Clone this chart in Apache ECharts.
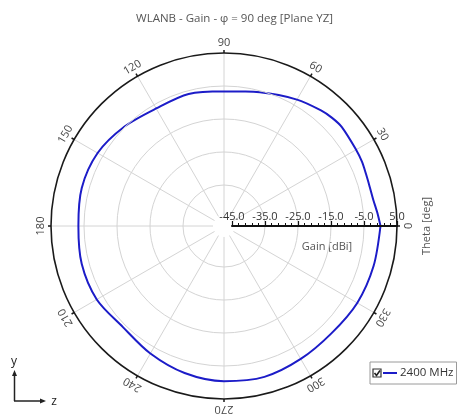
<!DOCTYPE html>
<html>
<head>
<meta charset="utf-8">
<script src="https://cdn.jsdelivr.net/npm/echarts@6/dist/echarts.min.js"></script>
<style>
html,body{margin:0;padding:0;background:#fff;}
#chart{width:469px;height:419px;}
</style>
</head>
<body>
<div id="chart"></div>
<script>
// Data
var thetaDeg = [0, 5, 10, 15, 20, 25, 30, 40, 45, 50, 60, 75, 90, 105, 120, 135, 150, 165, 180, 195, 210, 225, 240, 255, 270, 285, 300, 315, 330, 345, 360];
var gain2400 = [0.0, -0.8, -1.5, -1.7, -1.6, -1.3, -1.2, -0.8, -1.1, -1.7, -3.2, -5.5, -6.6, -6.0, -6.3, -4.8, -3.2, -2.8, -3.3, -2.8, -2.9, -4.1, -2.8, -1.3, -0.4, -0.1, -0.9, -1.4, -0.8, -0.5, 0.0];
var angleTickLabels = ['0', '30', '60', '90', '120', '150', '180', '210', '240', '270', '300', '330'];
var angleTickValues = [0, 30, 60, 90, 120, 150, 180, 210, 240, 270, 300, 330];
var seriesName = '2400 MHz';
var titleText = 'WLANB - Gain - \u03C6 = 90 deg [Plane YZ]';

var CX = 224, CY = 226, R_IN = 8, R_OUT = 173;
var FONT = '"Open Sans", "Noto Sans", sans-serif';

var chart = echarts.init(document.getElementById('chart'), null, {renderer: 'canvas'});

var polarData = thetaDeg.map(function (t, i) { return [gain2400[i], t]; });

var graphics = [];
// white cap hiding the inner ring of the polar hole
graphics.push({
  type: 'circle', z: 3, silent: true,
  shape: {cx: CX, cy: CY, r: R_IN + 3},
  style: {fill: '#fff', stroke: null}
});
angleTickValues.forEach(function (a, i) {
  var rad = a * Math.PI / 180;
  var rl = 183;
  graphics.push({
    type: 'text',
    x: CX + rl * Math.cos(rad),
    y: CY - rl * Math.sin(rad),
    rotation: (a - 90) * Math.PI / 180,
    style: {
      text: angleTickLabels[i], x: 0, y: 0,
      align: 'center', verticalAlign: 'middle',
      fill: '#444', font: '11px ' + FONT
    }
  });
});
// Theta axis name
graphics.push({
  type: 'text', x: 427, y: 226, rotation: Math.PI / 2,
  style: {text: 'Theta [deg]', x: 0, y: 0, align: 'center', verticalAlign: 'middle', fill: '#555', font: '11px ' + FONT}
});
// Gain axis name
graphics.push({
  type: 'text', x: 327, y: 247,
  style: {text: 'Gain [dBi]', x: 0, y: 0, align: 'center', verticalAlign: 'middle', fill: '#555', font: '11px ' + FONT}
});
// legend checkbox
graphics.push({
  type: 'group', x: 373, y: 369, z: 20,
  children: [
    {type: 'rect', shape: {x: 0, y: 0, width: 8, height: 8}, style: {fill: '#fff', stroke: '#333', lineWidth: 1.2}},
    {type: 'polyline', shape: {points: [[1.5, 4], [3.5, 6.5], [7, 1.5]]}, style: {stroke: '#222', lineWidth: 1.6, fill: null}}
  ]
});
// coordinate glyph
graphics.push({
  type: 'group', x: 0, y: 0,
  children: [
    {type: 'line', shape: {x1: 14.5, y1: 401, x2: 14.5, y2: 374}, style: {stroke: '#222', lineWidth: 1.5}},
    {type: 'polygon', shape: {points: [[14.5, 370], [12, 376], [17, 376]]}, style: {fill: '#222'}},
    {type: 'line', shape: {x1: 14, y1: 401, x2: 42, y2: 401}, style: {stroke: '#222', lineWidth: 1.5}},
    {type: 'polygon', shape: {points: [[46, 401], [40, 398.5], [40, 403.5]]}, style: {fill: '#222'}},
    {type: 'text', x: 14, y: 362, style: {text: 'y', x: 0, y: 0, align: 'center', verticalAlign: 'middle', fill: '#222', font: '12px ' + FONT}},
    {type: 'text', x: 54, y: 402, style: {text: 'z', x: 0, y: 0, align: 'center', verticalAlign: 'middle', fill: '#222', font: '12px ' + FONT}}
  ]
});

var GRID = '#d4d4d4';
var option = {
  backgroundColor: '#fff',
  animation: false,
  title: {
    text: titleText, left: 'center', top: 8,
    textStyle: {fontFamily: FONT, fontSize: 11.5, fontWeight: 'normal', color: '#555'}
  },
  legend: {
    data: [seriesName],
    left: 370, top: 362,
    orient: 'horizontal',
    padding: [5, 3, 5, 13],
    itemWidth: 14, itemHeight: 2, itemGap: 3,
    icon: 'rect',
    borderColor: '#9a9a9a', borderWidth: 1,
    textStyle: {fontFamily: FONT, fontSize: 11.5, color: '#333', padding: [0, 0, 0, -2]},
    selectedMode: false
  },
  polar: {center: [CX, CY], radius: [R_IN, R_OUT]},
  angleAxis: {
    type: 'value', min: 0, max: 360, interval: 30,
    startAngle: 0, clockwise: false,
    axisLine: {show: true, lineStyle: {color: '#1a1a1a', width: 1.6}},
    axisTick: {show: true, length: 3, lineStyle: {color: '#1a1a1a', width: 1.5}},
    axisLabel: {show: false},
    splitLine: {show: true, lineStyle: {color: GRID, width: 1}},
    z: 2
  },
  radiusAxis: {
    type: 'value', min: -45, max: 5, interval: 10,
    axisLine: {show: true, lineStyle: {color: '#111', width: 2}},
    axisTick: {show: true, length: 5, lineStyle: {color: '#111', width: 1.2}},
    minorTick: {show: true, splitNumber: 5, length: 3, lineStyle: {color: '#111', width: 1}},
    axisLabel: {
      show: true, margin: 4, color: '#333', fontFamily: FONT, fontSize: 11,
      formatter: function (v) { return v.toFixed(1); }
    },
    splitLine: {show: true, lineStyle: {color: ['rgba(0,0,0,0)', GRID, GRID, GRID, GRID, 'rgba(0,0,0,0)'], width: 1}},
    z: 10
  },
  series: [{
    name: seriesName,
    type: 'line',
    coordinateSystem: 'polar',
    data: polarData,
    smooth: 0.3,
    showSymbol: false,
    lineStyle: {color: '#1c1cc8', width: 2},
    itemStyle: {color: '#1c1cc8'},
    z: 5
  }],
  graphic: graphics
};
chart.setOption(option);
</script>
</body>
</html>
